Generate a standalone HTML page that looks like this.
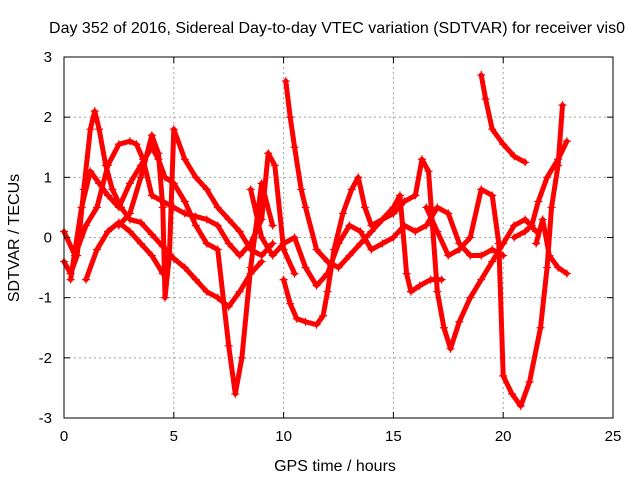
<!DOCTYPE html>
<html><head><meta charset="utf-8"><style>
body{margin:0;background:#fff}
svg{display:block;font-family:"Liberation Sans",sans-serif}
</style></head><body>
<svg id="c" width="640" height="480" xmlns="http://www.w3.org/2000/svg">
<text x="337" y="33" font-size="16" text-anchor="middle">Day 352 of 2016, Sidereal Day-to-day VTEC variation (SDTVAR) for receiver vis0</text>
<text x="335" y="471" font-size="16" text-anchor="middle">GPS time / hours</text>
<text transform="translate(19,238) rotate(-90)" font-size="16" text-anchor="middle">SDTVAR / TECUs</text>
<g id="grid"></g><g id="data"></g><g id="axes"></g>
</svg>
<script>
const xTicks=[0,5,10,15,20,25];
const yTicks=[-3,-2,-1,0,1,2,3];
const track1=[[0,-0.4],[0.3,-0.6],[0.6,-0.3],[0.9,0.8],[1.2,1.8],[1.4,2.1],[1.6,1.8],[1.9,1.2],[2.2,0.8],[2.6,0.5],[3,0.3],[3.5,0.25],[4,0.05],[4.5,-0.15],[5,-0.35],[5.5,-0.5],[6,-0.7],[6.5,-0.9],[7,-1.0],[7.5,-1.15],[8,-0.9],[8.5,-0.6],[9,-0.4]];
const track2=[[0,0.1],[0.5,-0.3],[1,0.2],[1.5,0.5],[2,1.2],[2.5,1.55],[3,1.6],[3.3,1.55],[3.6,1.3],[4,0.7],[4.5,0.6],[5,0.5],[5.5,0.4],[6,0.35],[6.5,0.3],[7,0.2],[7.5,-0.1],[8,-0.3],[8.5,-0.1],[9,0.3],[9.3,1.4],[9.6,1.2],[10,-0.2],[10.5,-0.6]];
const track3=[[0.3,-0.7],[0.8,0.5],[1.2,1.1],[1.6,0.9],[2,0.7],[2.5,0.5],[3,0.9],[3.5,1.2],[4,1.5],[4.3,1.3],[4.6,1.0],[5,0.9],[5.5,0.6],[6,0.2],[6.5,-0.1],[7,-0.2],[7.5,-1.8],[7.8,-2.6],[8.1,-2.0],[8.5,-0.5],[9,0.9],[9.5,0.2]];
const track4=[[2.5,0.2],[3,0.4],[3.5,1.0],[4,1.7],[4.3,1.4],[4.5,0.5],[4.6,-1.0],[4.8,-0.3],[5,1.8],[5.5,1.3],[6,1.0],[6.5,0.8],[7,0.5],[7.5,0.3],[8,0.1],[8.5,-0.2],[9,-0.3],[9.5,-0.1]];
const track5=[[1,-0.7],[1.5,-0.2],[2,0.1],[2.5,0.25],[3,0.1],[3.5,-0.1],[4,-0.3],[4.5,-0.6],[4.8,-0.3]];
const track6=[[10,-0.7],[10.3,-1.1],[10.6,-1.35],[11,-1.4],[11.5,-1.45],[11.8,-1.3],[12,-0.9],[12.3,-0.2],[12.7,0.4],[13.1,0.8],[13.4,1.0],[13.7,0.5],[14,0.2],[14.5,0.3],[15,0.5],[15.3,0.7],[15.6,-0.6],[15.8,-0.9],[16.2,-0.8],[16.7,-0.7],[17.2,-0.7]];
const track7=[[10.1,2.6],[10.3,2.0],[10.5,1.5],[10.8,0.8],[11,0.5],[11.5,-0.2],[12,-0.4],[12.5,-0.5],[13,-0.3],[13.5,-0.1],[14,0.1],[14.5,0.3],[15,0.4],[15.5,0.6],[16,0.7],[16.3,1.3],[16.6,1.1],[17,-0.9],[17.3,-1.5],[17.6,-1.85],[18,-1.4],[18.5,-1.0],[19,-0.7],[19.5,-0.4],[20,-0.1],[20.5,0.2],[21,0.3],[21.5,0.1]];
const track8=[[8.5,0.8],[9,0.0],[9.5,-0.3],[10,-0.1],[10.5,0.0],[11,-0.5],[11.5,-0.8],[12,-0.6],[12.5,-0.1],[13,0.2],[13.5,0.1],[14,-0.2],[14.5,-0.1],[15,0.0],[15.5,0.2],[16,0.1],[16.5,0.2],[17,0.5],[17.5,0.4],[18,-0.1],[18.5,-0.3],[19,-0.3],[19.5,-0.2],[20,-0.3]];
const track9=[[19,2.7],[19.2,2.3],[19.5,1.8],[20,1.55],[20.5,1.35],[21,1.25]];
const track10=[[16.5,0.5],[17,0.1],[17.5,-0.3],[18,-0.2],[18.5,0.0],[19,0.8],[19.5,0.7],[19.8,-0.1],[20,-2.3],[20.4,-2.6],[20.8,-2.8],[21.2,-2.4],[21.7,-1.5],[22,-0.5],[22.2,0.5],[22.5,1.2],[22.7,2.2]];
const track11=[[20.5,0.0],[21,0.1],[21.3,0.2],[21.6,0.6],[22,1.0],[22.5,1.3],[22.9,1.6]];
const track12=[[21.5,-0.1],[21.8,0.3],[22.1,-0.3],[22.5,-0.5],[22.9,-0.6]];
const tracks=[track1,track2,track3,track4,track5,track6,track7,track8,track9,track10,track11,track12];
const X0=64,X1=613,Y0=418,Y1=57;
const sx=v=>X0+(v-0)/(25-0)*(X1-X0);
const sy=v=>Y0-(v+3)/6*(Y0-Y1);
const NS="http://www.w3.org/2000/svg";
const mk=(t,a,p)=>{const e=document.createElementNS(NS,t);for(const k in a)e.setAttribute(k,a[k]);p.appendChild(e);return e;};
const grid=document.getElementById('grid'),axes=document.getElementById('axes'),data=document.getElementById('data');
xTicks.forEach(t=>{const x=sx(t);
 if(t>0&&t<25){const g=mk('line',{x1:x,x2:x,y1:Y1,y2:Y0,stroke:'#a0a0a0','stroke-dasharray':'2,3'},grid);}
 const l=mk('line',{x1:x,x2:x,y1:Y0,y2:Y0-6,stroke:'#000'},axes);
 const l2=mk('line',{x1:x,x2:x,y1:Y1,y2:Y1+6,stroke:'#000'},axes);
 const tx=mk('text',{x:x,y:Y0+23,'font-size':15,'text-anchor':'middle'},axes);tx.textContent=t;});
yTicks.forEach(t=>{const y=sy(t);
 if(t>-3&&t<3){const g=mk('line',{x1:X0,x2:X1,y1:y,y2:y,stroke:'#a0a0a0','stroke-dasharray':'2,3'},grid);}
 const l=mk('line',{x1:X0,x2:X0+6,y1:y,y2:y,stroke:'#000'},axes);
 const l2=mk('line',{x1:X1,x2:X1-6,y1:y,y2:y,stroke:'#000'},axes);
 const tx=mk('text',{x:X0-12,y:y+5,'font-size':15,'text-anchor':'end'},axes);tx.textContent=t;});
const fr=mk('rect',{x:X0,y:Y1,width:X1-X0,height:Y0-Y1,fill:'none',stroke:'#000'},axes);


tracks.forEach((tr,i)=>{
 const g=mk('g',{},data);
 
 
 mk('polyline',{points:tr.map(p=>sx(p[0])+','+sy(p[1])).join(' '),fill:'none',stroke:'#f00','stroke-width':5,'stroke-linejoin':'round','stroke-linecap':'round'},g);
 let d='';tr.forEach(p=>{const x=sx(p[0]),y=sy(p[1]);d+=`M${x-4},${y}H${x+4}M${x},${y-4}V${y+4}`;});
 mk('path',{d:d,stroke:'#f00','stroke-width':1.2},g);
});
</script>
</body></html>
